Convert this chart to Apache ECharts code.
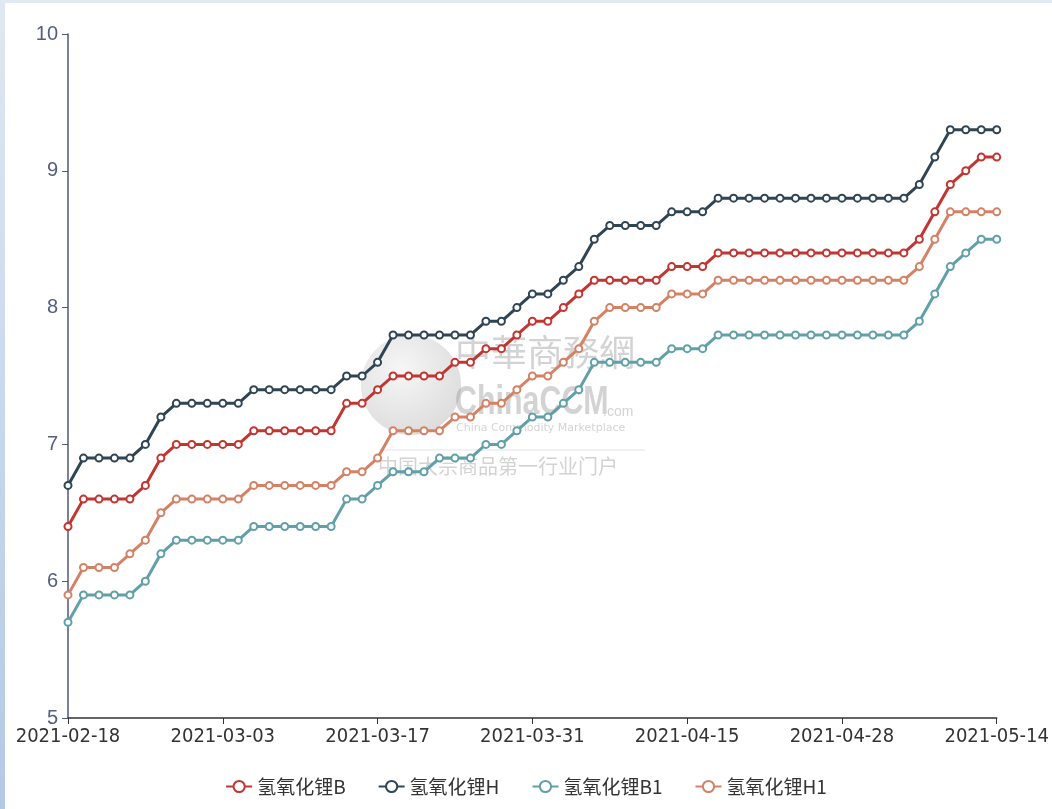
<!DOCTYPE html>
<html>
<head>
<meta charset="utf-8">
<script src="https://cdn.jsdelivr.net/npm/echarts@6/dist/echarts.min.js"></script>
<style>
html,body{margin:0;padding:0;width:1052px;height:809px;background:#fff;overflow:hidden;}
#leftband{position:absolute;left:0;top:0;width:5px;height:809px;background:linear-gradient(#dfe8f3,#b3c9e5);}
#topband{position:absolute;left:0;top:0;width:1052px;height:3px;background:#e1e9f4;}
#chart{position:absolute;left:0;top:0;width:1052px;height:809px;}
</style>
</head>
<body>
<div id="leftband"></div>
<div id="topband"></div>
<div id="chart"></div>
<script>
const categories = [
 '2021-02-18','2021-02-19','2021-02-20','2021-02-22','2021-02-23','2021-02-24','2021-02-25','2021-02-26','2021-03-01','2021-03-02',
 '2021-03-03','2021-03-04','2021-03-05','2021-03-08','2021-03-09','2021-03-10','2021-03-11','2021-03-12','2021-03-15','2021-03-16',
 '2021-03-17','2021-03-18','2021-03-19','2021-03-22','2021-03-23','2021-03-24','2021-03-25','2021-03-26','2021-03-29','2021-03-30',
 '2021-03-31','2021-04-01','2021-04-02','2021-04-06','2021-04-07','2021-04-08','2021-04-09','2021-04-12','2021-04-13','2021-04-14',
 '2021-04-15','2021-04-16','2021-04-19','2021-04-20','2021-04-21','2021-04-22','2021-04-23','2021-04-25','2021-04-26','2021-04-27',
 '2021-04-28','2021-04-29','2021-04-30','2021-05-06','2021-05-07','2021-05-08','2021-05-10','2021-05-11','2021-05-12','2021-05-13',
 '2021-05-14'
];
const seriesNames = ['氢氧化锂B','氢氧化锂H','氢氧化锂B1','氢氧化锂H1'];
const valuesB = [
 6.4,6.6,6.6,6.6,6.6,6.7,6.9,7.0,7.0,7.0,
 7.0,7.0,7.1,7.1,7.1,7.1,7.1,7.1,7.3,7.3,
 7.4,7.5,7.5,7.5,7.5,7.6,7.6,7.7,7.7,7.8,
 7.9,7.9,8.0,8.1,8.2,8.2,8.2,8.2,8.2,8.3,
 8.3,8.3,8.4,8.4,8.4,8.4,8.4,8.4,8.4,8.4,
 8.4,8.4,8.4,8.4,8.4,8.5,8.7,8.9,9.0,9.1,
 9.1
];
const valuesH = [
 6.7,6.9,6.9,6.9,6.9,7.0,7.2,7.3,7.3,7.3,
 7.3,7.3,7.4,7.4,7.4,7.4,7.4,7.4,7.5,7.5,
 7.6,7.8,7.8,7.8,7.8,7.8,7.8,7.9,7.9,8.0,
 8.1,8.1,8.2,8.3,8.5,8.6,8.6,8.6,8.6,8.7,
 8.7,8.7,8.8,8.8,8.8,8.8,8.8,8.8,8.8,8.8,
 8.8,8.8,8.8,8.8,8.8,8.9,9.1,9.3,9.3,9.3,
 9.3
];
const valuesB1 = [
 5.7,5.9,5.9,5.9,5.9,6.0,6.2,6.3,6.3,6.3,
 6.3,6.3,6.4,6.4,6.4,6.4,6.4,6.4,6.6,6.6,
 6.7,6.8,6.8,6.8,6.9,6.9,6.9,7.0,7.0,7.1,
 7.2,7.2,7.3,7.4,7.6,7.6,7.6,7.6,7.6,7.7,
 7.7,7.7,7.8,7.8,7.8,7.8,7.8,7.8,7.8,7.8,
 7.8,7.8,7.8,7.8,7.8,7.9,8.1,8.3,8.4,8.5,
 8.5
];
const valuesH1 = [
 5.9,6.1,6.1,6.1,6.2,6.3,6.5,6.6,6.6,6.6,
 6.6,6.6,6.7,6.7,6.7,6.7,6.7,6.7,6.8,6.8,
 6.9,7.1,7.1,7.1,7.1,7.2,7.2,7.3,7.3,7.4,
 7.5,7.5,7.6,7.7,7.9,8.0,8.0,8.0,8.0,8.1,
 8.1,8.1,8.2,8.2,8.2,8.2,8.2,8.2,8.2,8.2,
 8.2,8.2,8.2,8.2,8.2,8.3,8.5,8.7,8.7,8.7,
 8.7
];
const colors = ['#c23531','#2f4554','#61a0a8','#d48265'];
const allValues = [valuesB, valuesH, valuesB1, valuesH1];

const chart = echarts.init(document.getElementById('chart'), null, {renderer:'canvas'});
const wmColor = 'rgba(150,150,150,0.42)';
chart.setOption({
  backgroundColor: 'transparent',
  animation: false,
  color: colors,
  grid: {left: 68, right: 55, top: 34, bottom: 91},
  legend: {
    bottom: 8,
    left: 'center',
    itemWidth: 26, itemHeight: 14, itemGap: 32,
    textStyle: {color: '#333', fontSize: 19, fontFamily: 'Noto Sans CJK SC'},
    data: seriesNames
  },
  xAxis: {
    type: 'category',
    boundaryGap: false,
    data: categories,
    axisLine: {lineStyle: {color: '#333', width: 1.5}},
    axisTick: {interval: 9, length: 6, lineStyle: {color: '#333'}},
    axisLabel: {interval: 9, color: '#333', fontSize: 20, margin: 9, fontFamily: 'DejaVu Sans Condensed, sans-serif'}
  },
  yAxis: {
    type: 'value',
    min: 5, max: 10, interval: 1,
    splitLine: {show: false},
    axisLine: {show: true, lineStyle: {color: '#4e587a', width: 1.5}},
    axisTick: {show: true, length: 6, lineStyle: {color: '#4e587a'}},
    axisLabel: {color: '#555d80', fontSize: 20, margin: 10, fontFamily: 'Liberation Sans, sans-serif'}
  },
  graphic: [
    {type: 'circle', shape: {cx: 411, cy: 385, r: 50}, style: {fill: {type:'radial', x:0.4, y:0.35, r:0.7, colorStops:[{offset:0,color:'rgba(238,238,238,0.5)'},{offset:1,color:'rgba(185,185,185,0.5)'}]}}, z: -1},
    {type: 'text', x: 455, y: 334, style: {text: '中華商務網', fill: wmColor, font: '36px "Noto Sans CJK SC"'}, z: -1},
    {type: 'text', x: 455, y: 383, scaleX: 0.76, style: {text: 'ChinaCCM', fill: wmColor, font: 'bold 40px "Liberation Sans", sans-serif'}, z: -1},
    {type: 'text', x: 603, y: 405, style: {text: '.com', fill: wmColor, font: '14px "Liberation Sans", sans-serif'}, z: -1},
    {type: 'text', x: 456, y: 423, style: {text: 'China Commodity Marketplace', fill: wmColor, font: '11px "DejaVu Sans", sans-serif'}, z: -1},
    {type: 'line', shape: {x1: 380, y1: 450, x2: 645, y2: 450}, style: {stroke: 'rgba(200,200,200,0.5)', lineWidth: 1}, z: -1},
    {type: 'text', x: 378, y: 456, style: {text: '中国大宗商品第一行业门户', fill: wmColor, font: '20px "Noto Sans CJK SC"'}, z: -1}
  ],
  series: seriesNames.map((n, i) => ({
    name: n,
    type: 'line',
    data: allValues[i],
    symbol: 'emptyCircle',
    symbolSize: 7,
    showAllSymbol: true,
    lineStyle: {width: 3},
    itemStyle: {borderWidth: 1.5}
  }))
});
</script>
</body>
</html>
